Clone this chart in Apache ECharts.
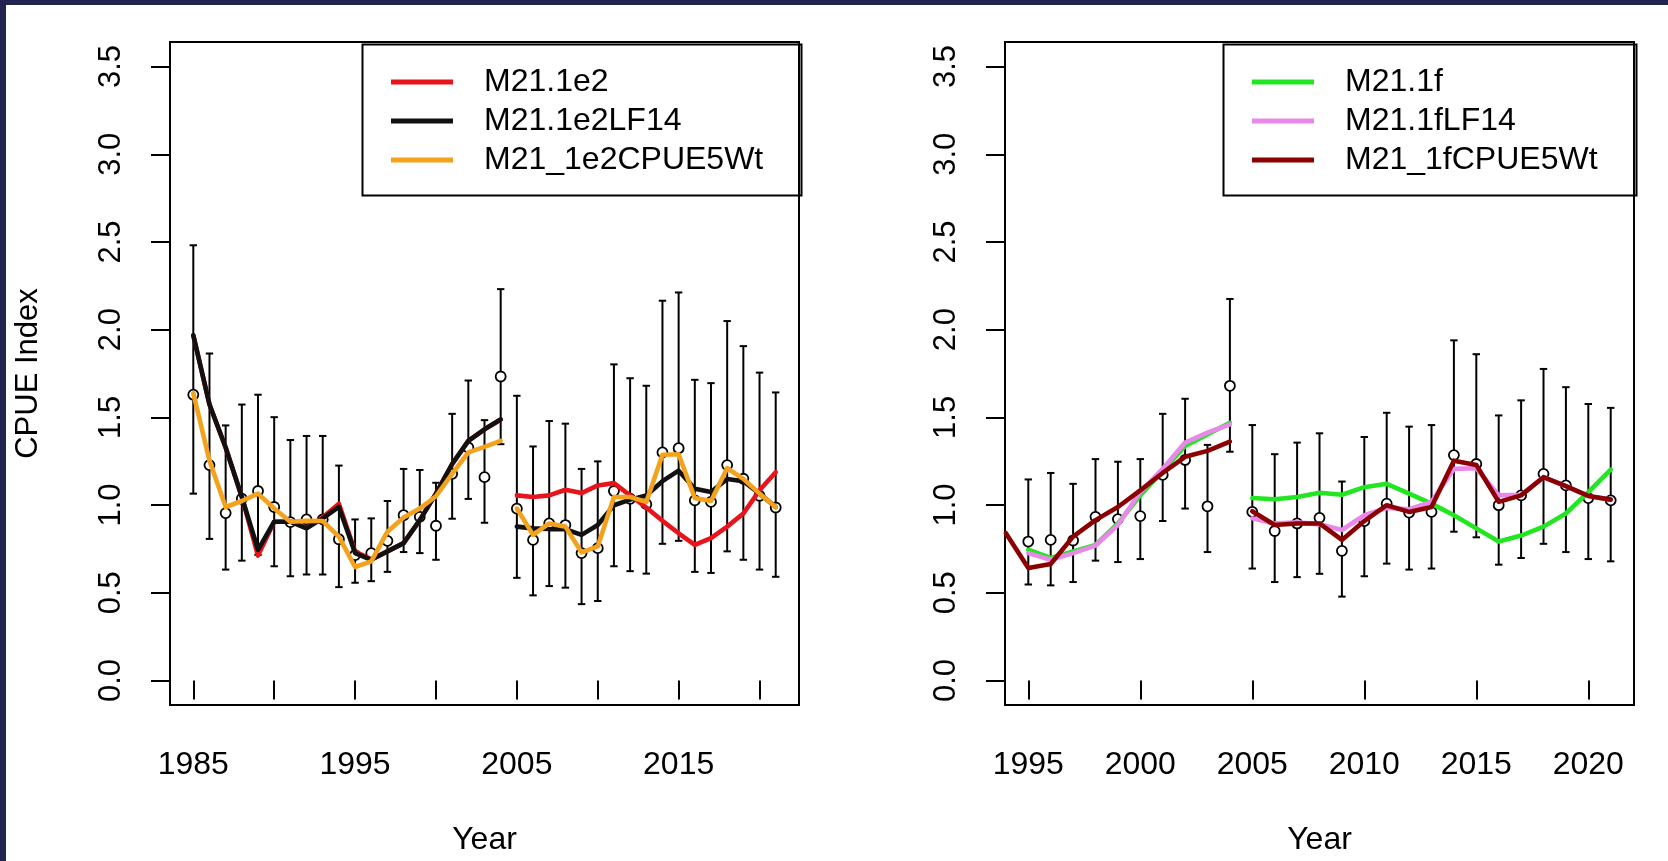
<!DOCTYPE html>
<html>
<head>
<meta charset="utf-8">
<title>CPUE Index fits</title>
<script src="https://cdn.jsdelivr.net/npm/echarts@6/dist/echarts.min.js"></script>
<style>
  html, body { margin: 0; padding: 0; width: 1668px; height: 861px; overflow: hidden; background: #23234f; }
  #paper { position: absolute; left: 6px; top: 5px; width: 1662px; height: 856px; background: #ffffff; }
  #chart { position: absolute; left: 0; top: 0; width: 1668px; height: 861px; }
</style>
</head>
<body>
<div id="paper"></div>
<div id="chart"></div>
<script>
// ---------- Left panel: observed index 1985-2021 with 95% intervals ----------
const yearsL1 = [1985,1986,1987,1988,1989,1990,1991,1992,1993,1994,1995,1996,1997,1998,1999,2000,2001,2002,2003,2004];
const yearsL2 = [2005,2006,2007,2008,2009,2010,2011,2012,2013,2014,2015,2016,2017,2018,2019,2020,2021];

const obsL = [1.629,1.228,0.954,1.036,1.080,0.989,0.903,0.918,0.918,0.805,0.715,0.726,0.796,0.942,0.933,0.882,1.178,1.328,1.159,1.733,
              0.980,0.801,0.895,0.886,0.726,0.754,1.080,1.036,1.005,1.300,1.324,1.027,1.018,1.228,1.150,1.053,0.986];
const hiL  = [2.481,1.864,1.454,1.573,1.629,1.501,1.371,1.394,1.394,1.225,0.918,0.924,1.023,1.206,1.200,1.127,1.520,1.710,1.484,2.231,
              1.623,1.334,1.479,1.464,1.206,1.249,1.802,1.723,1.680,2.165,2.212,1.714,1.695,2.049,1.906,1.755,1.642];
const loL  = [1.065,0.807,0.632,0.683,0.716,0.651,0.594,0.604,0.604,0.532,0.557,0.566,0.619,0.732,0.726,0.688,0.922,1.035,0.899,1.347,
              0.585,0.485,0.538,0.529,0.435,0.453,0.651,0.623,0.609,0.779,0.796,0.619,0.613,0.736,0.688,0.632,0.591];

// model fits, left panel
const e2_early = [1.968,1.573,1.328,1.046,0.712,0.905,0.905,0.870,0.930,1.008,0.735,0.690,0.736,0.783,0.914,1.065,1.234,1.366,1.432,1.488];
const e2_late  = [1.055,1.046,1.055,1.087,1.068,1.112,1.125,1.055,0.986,0.910,0.839,0.773,0.811,0.877,0.952,1.084,1.187];
const e2LF_early = [1.968,1.573,1.328,1.046,0.745,0.905,0.905,0.867,0.924,0.989,0.726,0.688,0.736,0.783,0.914,1.065,1.234,1.366,1.432,1.488];
const e2LF_late  = [0.877,0.867,0.863,0.862,0.830,0.886,0.999,1.031,1.055,1.136,1.196,1.093,1.074,1.149,1.136,1.065,0.989];
const e2W_early = [1.638,1.253,0.989,1.023,1.065,0.980,0.905,0.910,0.909,0.820,0.647,0.679,0.848,0.929,0.980,1.050,1.178,1.300,1.332,1.366];
const e2W_late  = [0.980,0.830,0.895,0.877,0.730,0.764,1.046,1.046,1.018,1.287,1.290,1.040,1.023,1.210,1.149,1.065,0.989];

// ---------- Right panel: observed index 1995-2021 with 95% intervals ----------
const yearsR0 = [1994,1995,1996,1997,1998,1999,2000,2001,2002,2003,2004];
const yearsR1 = [1995,1996,1997,1998,1999,2000,2001,2002,2003,2004];
const yearsR2 = [2005,2006,2007,2008,2009,2010,2011,2012,2013,2014,2015,2016,2017,2018,2019,2020,2021];

const obsR = [0.792,0.801,0.798,0.933,0.920,0.937,1.172,1.257,0.993,1.680,
              0.961,0.852,0.895,0.927,0.739,0.908,1.008,0.957,0.961,1.285,1.234,0.999,1.055,1.178,1.112,1.040,1.027];
const hiR  = [1.146,1.183,1.121,1.262,1.247,1.262,1.520,1.606,1.343,2.175,
              1.456,1.290,1.356,1.409,1.134,1.388,1.526,1.447,1.456,1.939,1.860,1.511,1.597,1.776,1.672,1.576,1.554];
const loR  = [0.547,0.542,0.561,0.683,0.675,0.692,0.909,0.980,0.732,1.304,
              0.638,0.561,0.589,0.608,0.478,0.594,0.666,0.632,0.638,0.848,0.816,0.660,0.698,0.779,0.732,0.692,0.679];

// model fits, right panel
const f_early = [0.745,0.698,0.736,0.773,0.895,1.055,1.196,1.337,1.403,1.469];
const f_late  = [1.040,1.033,1.046,1.070,1.059,1.102,1.121,1.065,1.008,0.942,0.867,0.792,0.826,0.877,0.952,1.074,1.202];
const fLF_early = [0.726,0.688,0.726,0.769,0.886,1.074,1.206,1.356,1.413,1.460];
const fLF_late  = [0.924,0.895,0.901,0.890,0.858,0.942,0.984,0.976,1.018,1.206,1.210,1.055,1.059,1.159,1.108,1.052,1.031];
const fW_early = [0.839,0.641,0.664,0.820,0.914,0.989,1.084,1.183,1.275,1.309,1.362];
const fW_late  = [0.965,0.886,0.895,0.895,0.801,0.909,0.999,0.961,0.989,1.253,1.228,1.018,1.055,1.159,1.108,1.052,1.031];

// axis ticks and labels
const xTicksL = [1985,1990,1995,2000,2005,2010,2015,2020];
const xLabelsL = [1985,1995,2005,2015];
const xTicksR = [1995,2000,2005,2010,2015,2020];
const xLabelsR = [1995,2000,2005,2010,2015,2020];
const yTicks = [0,0.5,1,1.5,2,2.5,3,3.5];

const namesL = ['M21.1e2','M21.1e2LF14','M21_1e2CPUE5Wt'];
const namesR = ['M21.1f','M21.1fLF14','M21_1fCPUE5Wt'];
const colorsL = ['#e8141b','#111111','#f4a21c'];
const colorsR = ['#22e622','#e888e8','#8b0000'];

const FONT = '"Liberation Sans", Arial, Helvetica, sans-serif';

const allYearsL = yearsL1.concat(yearsL2);
const allYearsR = yearsR1.concat(yearsR2);
const pairs = (xs, ys) => xs.map((x, i) => [x, ys[i]]);
const triples = (xs, lo, hi) => xs.map((x, i) => [x, lo[i], hi[i]]);

// vertical interval with short caps at both ends
function errorBars(params, api) {
  const x = api.value(0), lo = api.value(1), hi = api.value(2);
  const a = api.coord([x, lo]), b = api.coord([x, hi]);
  const cap = 3.7;
  const st = { stroke: '#000', lineWidth: 2 };
  return {
    type: 'group',
    children: [
      { type: 'line', shape: { x1: a[0], y1: a[1], x2: b[0], y2: b[1] }, style: st },
      { type: 'line', shape: { x1: b[0] - cap, y1: b[1], x2: b[0] + cap, y2: b[1] }, style: st },
      { type: 'line', shape: { x1: a[0] - cap, y1: a[1], x2: a[0] + cap, y2: a[1] }, style: st }
    ]
  };
}

function xAxisDef(idx, min, max, ticks, labels) {
  return {
    type: 'value', gridIndex: idx, min: min, max: max,
    axisLine: { show: false },
    splitLine: { show: false },
    axisTick: { show: true, customValues: ticks, length: 19, lineStyle: { color: '#000', width: 2 } },
    axisLabel: { customValues: labels, fontSize: 32, color: '#000', fontFamily: FONT, margin: 44,
                 formatter: v => String(Math.round(v)) },
    name: 'Year', nameLocation: 'middle', nameGap: 119,
    nameTextStyle: { fontSize: 32, color: '#000', fontFamily: FONT }
  };
}

function yAxisDef(idx, withName) {
  const ax = {
    type: 'value', gridIndex: idx, min: -0.14, max: 3.64,
    axisLine: { show: false },
    splitLine: { show: false },
    axisTick: { show: true, customValues: yTicks, length: 19, lineStyle: { color: '#000', width: 2 } },
    axisLabel: { customValues: yTicks, rotate: 90, fontSize: 31, color: '#000', fontFamily: FONT, margin: 43,
                 formatter: v => v.toFixed(1) }
  };
  if (withName) {
    ax.name = 'CPUE Index';
    ax.nameLocation = 'middle';
    ax.nameGap = 126;
    ax.nameRotate = 90;
    ax.nameTextStyle = { fontSize: 31, color: '#000', fontFamily: FONT };
  }
  return ax;
}

function lineSeries(name, color, xs, ys, gi, z) {
  return {
    type: 'line', name: name, xAxisIndex: gi, yAxisIndex: gi,
    data: pairs(xs, ys), showSymbol: false, symbol: 'none', z: z,
    lineStyle: { color: color, width: 4.6, join: 'round', cap: 'round' },
    itemStyle: { color: color },
    silent: true
  };
}

function obsSeries(gi, xs, obs, lo, hi) {
  return [
    { type: 'custom', xAxisIndex: gi, yAxisIndex: gi, renderItem: errorBars,
      encode: { x: 0, y: [1, 2] }, data: triples(xs, lo, hi), z: 2, silent: true },
    { type: 'scatter', xAxisIndex: gi, yAxisIndex: gi, data: pairs(xs, obs), symbol: 'circle',
      symbolSize: 10, z: 3, silent: true,
      itemStyle: { color: '#ffffff', borderColor: '#000', borderWidth: 1.8, opacity: 1 } }
  ];
}

function legendDef(names, left) {
  return {
    data: names, orient: 'vertical', left: left, top: 66, padding: 0,
    itemWidth: 62, itemHeight: 5, itemGap: 7, icon: 'rect', selectedMode: false,
    textStyle: { fontSize: 32, color: '#000', fontFamily: FONT, lineHeight: 30, padding: [0, 0, 0, 26] }
  };
}

const series = []
  .concat(obsSeries(0, allYearsL, obsL, loL, hiL))
  .concat([
    lineSeries(namesL[0], colorsL[0], yearsL1, e2_early, 0, 4),
    lineSeries(namesL[0], colorsL[0], yearsL2, e2_late, 0, 4),
    lineSeries(namesL[1], colorsL[1], yearsL1, e2LF_early, 0, 5),
    lineSeries(namesL[1], colorsL[1], yearsL2, e2LF_late, 0, 5),
    lineSeries(namesL[2], colorsL[2], yearsL1, e2W_early, 0, 6),
    lineSeries(namesL[2], colorsL[2], yearsL2, e2W_late, 0, 6)
  ])
  .concat(obsSeries(1, allYearsR, obsR, loR, hiR))
  .concat([
    lineSeries(namesR[0], colorsR[0], yearsR1, f_early, 1, 4),
    lineSeries(namesR[0], colorsR[0], yearsR2, f_late, 1, 4),
    lineSeries(namesR[1], colorsR[1], yearsR1, fLF_early, 1, 5),
    lineSeries(namesR[1], colorsR[1], yearsR2, fLF_late, 1, 5),
    lineSeries(namesR[2], colorsR[2], yearsR0, fW_early, 1, 6),
    lineSeries(namesR[2], colorsR[2], yearsR2, fW_late, 1, 6)
  ]);

const option = {
  animation: false,
  backgroundColor: 'transparent',
  textStyle: { fontFamily: FONT },
  grid: [
    { left: 170, top: 42, width: 629, height: 670, show: true, borderColor: '#000', borderWidth: 2, backgroundColor: 'transparent' },
    { left: 1005, top: 42, width: 629, height: 670, show: true, borderColor: '#000', borderWidth: 2, backgroundColor: 'transparent' }
  ],
  xAxis: [
    xAxisDef(0, 1983.56, 2022.44, xTicksL, xLabelsL),
    xAxisDef(1, 1993.96, 2022.04, xTicksR, xLabelsR)
  ],
  yAxis: [yAxisDef(0, true), yAxisDef(1, false)],
  legend: [legendDef(namesL, 391), legendDef(namesR, 1252)],
  graphic: [
    { type: 'rect', left: 360, top: 42, z: 10, silent: true,
      shape: { width: 439, height: 151 }, style: { fill: 'none', stroke: '#000', lineWidth: 2 } },
    { type: 'rect', left: 1221, top: 42, z: 10, silent: true,
      shape: { width: 413, height: 151 }, style: { fill: 'none', stroke: '#000', lineWidth: 2 } }
  ],
  series: series
};

const chart = echarts.init(document.getElementById('chart'), null, { renderer: 'canvas' });
chart.setOption(option);
</script>
</body>
</html>
